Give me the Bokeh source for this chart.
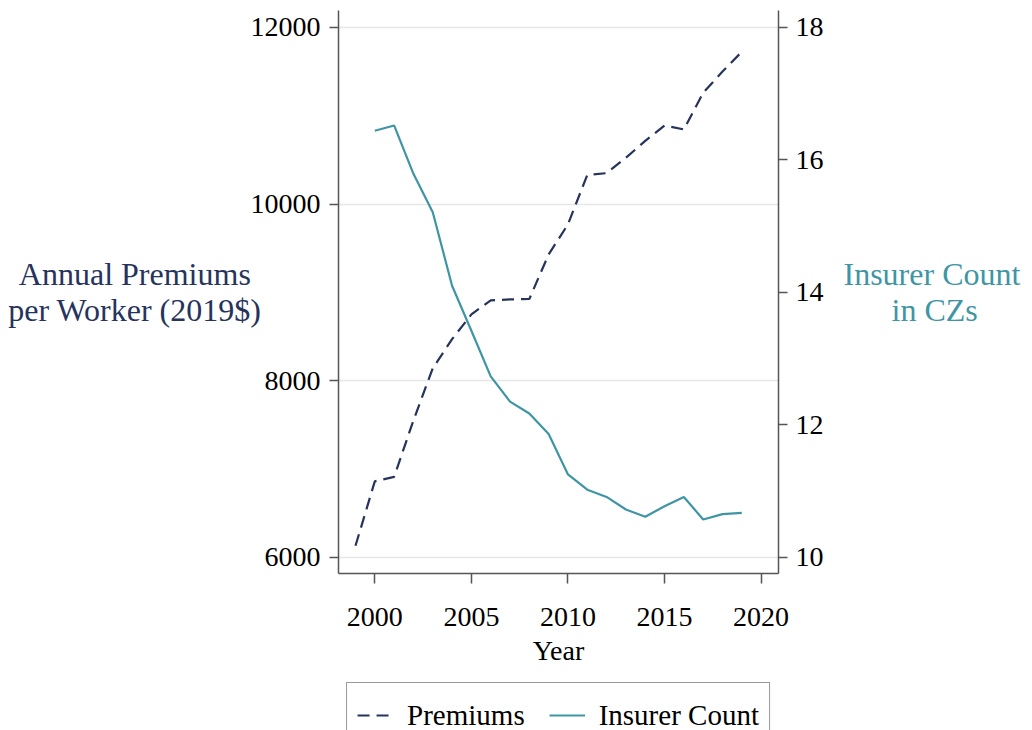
from bokeh.plotting import figure
from bokeh.models import Range1d, LinearAxis, FixedTicker, Legend
from bokeh.layouts import column
from bokeh.embed import file_html
from bokeh.resources import INLINE

# ---- data ----
years_prem = list(range(1999, 2020))
premiums = [6130, 6860, 6910, 7550, 8140, 8470, 8750, 8910, 8920, 8925,
            9430, 9770, 10330, 10350, 10525, 10715, 10890, 10845, 11260, 11500, 11725]
years_ins = list(range(2000, 2020))
insurers = [16.44, 16.52, 15.79, 15.21, 14.10, 13.42, 12.73, 12.35, 12.17, 11.86,
            11.25, 11.02, 10.91, 10.72, 10.61, 10.77, 10.91, 10.57, 10.65, 10.67]
x_ticks = [2000, 2005, 2010, 2015, 2020]
left_ticks = [6000, 8000, 10000, 12000]
right_ticks = [10, 12, 14, 16, 18]
series_names = ["Premiums", "Insurer Count"]
NB = "\u00a0"
left_title = "Annual Premiums" + NB + "\u200a" + "\nper Worker (2019$)"
right_title = "Insurer Count\n" + NB * 6 + "in CZs"

NAVY = "#26335c"
TEAL = "#3e96a4"
FONT = "Liberation Serif"
AXIS_COLOR = "#555555"
DASH = "12 7"

p = figure(frame_width=440, frame_height=563, output_backend="svg", toolbar_location=None,
           x_range=Range1d(1998.12, 2020.9), y_range=Range1d(5816, 12192),
           min_border_left=338, min_border_right=254, min_border_top=10,
           min_border_bottom=108)
p.outline_line_color = None
p.background_fill_color = "white"
p.border_fill_color = "white"
p.extra_y_ranges = {"ins": Range1d(9.754, 18.256)}

# grid
p.xgrid.visible = False
p.ygrid.ticker = FixedTicker(ticks=left_ticks)
p.ygrid.grid_line_color = "#e6e6e6"
p.ygrid.grid_line_width = 1.5

# lines
p.line(years_prem, premiums, line_color=NAVY, line_width=2.2, line_dash=DASH)
p.line(years_ins, insurers, y_range_name="ins", line_color=TEAL, line_width=2.2)

# right axis
ax_r = LinearAxis(y_range_name="ins", ticker=FixedTicker(ticks=right_ticks))
p.add_layout(ax_r, "right")

p.xaxis.ticker = FixedTicker(ticks=x_ticks)
p.yaxis[0].ticker = FixedTicker(ticks=left_ticks)

for ax in [p.xaxis[0], p.yaxis[0], ax_r]:
    ax.axis_line_color = AXIS_COLOR
    ax.axis_line_width = 1.5
    ax.major_tick_line_color = AXIS_COLOR
    ax.major_tick_line_width = 1.5
    ax.major_tick_out = 9
    ax.major_tick_in = 0
    ax.minor_tick_line_color = None
    ax.major_label_text_font = FONT
    ax.major_label_text_font_size = "28px"
    ax.major_label_text_color = "black"
    ax.axis_label_text_font = FONT
    ax.axis_label_text_font_style = "normal"
    ax.axis_label_text_font_size = "28px"

p.xaxis[0].major_tick_out = 10
p.xaxis[0].major_label_standoff = 24
p.xaxis[0].axis_label = "Year"
p.xaxis[0].axis_label_standoff = 6
p.xaxis[0].axis_label_text_color = "black"

p.yaxis[0].major_label_standoff = 9
p.yaxis[0].axis_label = left_title
p.yaxis[0].axis_label_orientation = "horizontal"
p.yaxis[0].axis_label_standoff = -14
p.yaxis[0].axis_label_text_font_size = "32px"
p.yaxis[0].axis_label_text_line_height = 1.0
p.yaxis[0].axis_label_text_color = NAVY

ax_r.major_label_standoff = 8
ax_r.axis_label = right_title
ax_r.axis_label_orientation = "horizontal"
ax_r.axis_label_standoff = 17
ax_r.axis_label_text_font_size = "32px"
ax_r.axis_label_text_line_height = 1.0
ax_r.axis_label_text_color = TEAL

# ---- legend strip below the chart, aligned with the plot frame ----
q = figure(width=1032, height=49, output_backend="svg", toolbar_location=None,
           x_range=Range1d(0, 1), y_range=Range1d(0, 1),
           min_border_left=338, min_border_right=254, min_border_top=0,
           min_border_bottom=0)
q.xaxis.visible = False
q.yaxis.visible = False
q.grid.visible = False
q.outline_line_color = None
q.border_fill_color = "white"
# same series, outside this strip's visible ranges: they only feed the legend keys
k1 = q.line(years_prem, premiums, line_color=NAVY, line_width=2.2, line_dash=DASH)
k2 = q.line(years_ins, insurers, line_color=TEAL, line_width=2.2)

legend = Legend(items=[(series_names[0], [k1]), (series_names[1], [k2])],
                orientation="horizontal", location="top_center")
legend.label_text_font = FONT
legend.label_text_font_size = "29px"
legend.label_text_color = "black"
legend.border_line_color = "#333333"
legend.border_line_width = 1.5
legend.glyph_width = 36
legend.glyph_height = 44
legend.label_height = 44
legend.label_standoff = 14
legend.spacing = 24
legend.padding = 10
legend.margin = 1
legend.background_fill_color = "white"
q.add_layout(legend)

open("out.html", "w").write(file_html(column(p, q, spacing=0), INLINE))
